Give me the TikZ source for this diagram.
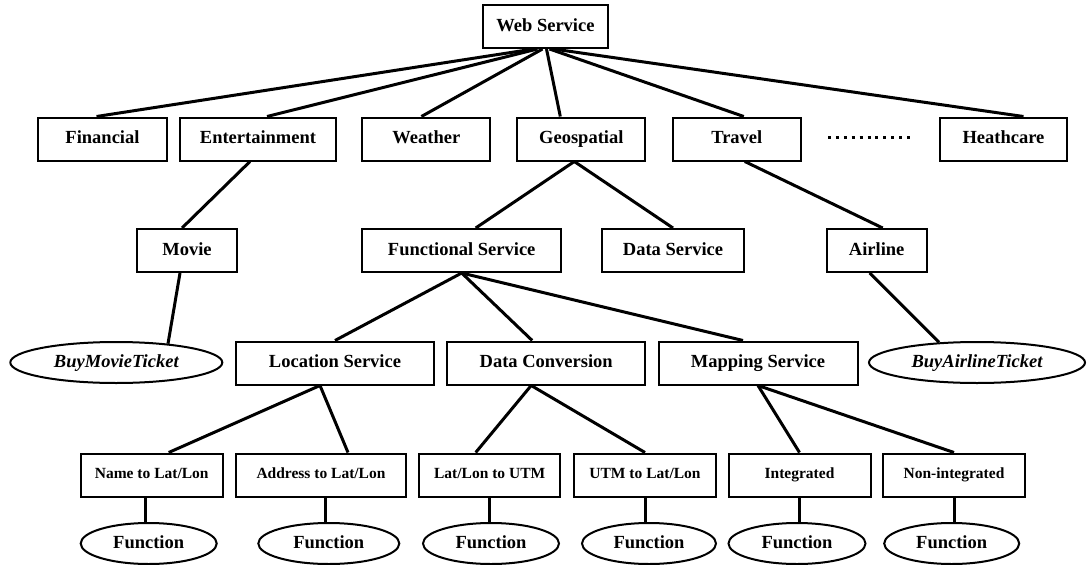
\documentclass[tikz,border=0pt]{standalone}
\usepackage{fontspec}
\setmainfont{Liberation Serif}
\usetikzlibrary{shapes.geometric}
\tikzset{
  bx/.style={draw, line width=2pt, inner sep=0pt, minimum height=43pt,
    text height=12.5pt, text depth=3.5pt,
    font=\fontsize{18.5}{20}\selectfont\bfseries},
  sbx/.style={bx, text height=10.5pt, text depth=3pt,
    font=\fontsize{15.5}{17}\selectfont\bfseries},
  ell/.style={draw, ellipse, line width=2pt, inner sep=0pt, minimum height=41pt,
    text height=12.5pt, text depth=3.5pt,
    font=\fontsize{18.5}{20}\selectfont\bfseries},
  iell/.style={ell, font=\fontsize{18.5}{20}\selectfont\bfseries\itshape},
  link/.style={line width=3pt},
}
\begin{document}
\begin{tikzpicture}[x=1pt,y=-1pt]
\useasboundingbox (0,0) rectangle (1088,565);
% level 0
\node[bx, minimum width=125pt] (ws) at (545.5,26.5) {Web Service};
% level 1
\node[bx, minimum width=129pt] (fin) at (102.5,139) {Financial};
\node[bx, minimum width=156pt] (ent) at (258,139) {Entertainment};
\node[bx, minimum width=128pt] (wea) at (426.4,139) {Weather};
\node[bx, minimum width=128pt] (geo) at (581.3,139) {Geospatial};
\node[bx, minimum width=128pt] (tra) at (736.8,139) {Travel};
\node[bx, minimum width=127pt] (hea) at (1003.5,139) {Heathcare};
\coordinate (dotsA) at (828,137.5);
\coordinate (dotsB) at (912,137.5);
% level 2
\node[bx, minimum width=100pt] (mov) at (187,250.5) {Movie};
\node[bx, minimum width=199pt] (fs) at (461.7,250.5) {Functional Service};
\node[bx, minimum width=142pt] (ds) at (673,250.5) {Data Service};
\node[bx, minimum width=100pt] (air) at (876.7,250.5) {Airline};
% level 3
\node[iell, minimum width=212pt] (bmt) at (116.3,362.5) {BuyMovieTicket};
\node[bx, minimum width=198pt] (ls) at (335,363) {Location Service};
\node[bx, minimum width=198pt] (dc) at (546.2,363) {Data Conversion};
\node[bx, minimum width=199pt] (ms) at (758,363) {Mapping Service};
\node[iell, minimum width=216pt] (bat) at (977,362.5) {BuyAirlineTicket};
% level 4
\node[sbx, minimum width=142pt] (n1) at (151.7,475) {Name to Lat/Lon};
\node[sbx, minimum width=170pt] (n2) at (321,475) {Address to Lat/Lon};
\node[sbx, minimum width=141pt] (n3) at (489.7,475) {Lat/Lon to UTM};
\node[sbx, minimum width=142pt] (n4) at (645,475) {UTM to Lat/Lon};
\node[sbx, minimum width=142pt] (n5) at (799.5,475) {Integrated};
\node[sbx, minimum width=142pt] (n6) at (954,475) {Non-integrated};
% functions
\node[ell, minimum width=136pt] (f1) at (148.7,543.5) {Function};
\node[ell, minimum width=141pt] (f2) at (328.8,543.5) {Function};
\node[ell, minimum width=136pt] (f3) at (491,543.5) {Function};
\node[ell, minimum width=134pt] (f4) at (649,543.5) {Function};
\node[ell, minimum width=137pt] (f5) at (797,543.5) {Function};
\node[ell, minimum width=135pt] (f6) at (951.7,543.5) {Function};
% connectors level 0 -> 1
\draw[link] ([xshift=-12pt]ws.south) -- ([xshift=-6pt]fin.north);
\draw[link] ([xshift=-8pt]ws.south) -- ([xshift=9pt]ent.north);
\draw[link] ([xshift=-3pt]ws.south) -- ([xshift=-5pt]wea.north);
\draw[link] ([xshift=1pt]ws.south) -- ([xshift=-21pt]geo.north);
\draw[link] ([xshift=4pt]ws.south) -- ([xshift=7pt]tra.north);
\draw[link] ([xshift=8pt]ws.south) -- ([xshift=20pt]hea.north);
\draw[line width=3pt, dash pattern=on 3pt off 4.9pt] (dotsA) -- (dotsB);
% level 1 -> 2
\draw[link] ([xshift=-8pt]ent.south) -- ([xshift=-5pt]mov.north);
\draw[link] ([xshift=-7pt]geo.south) -- ([xshift=14pt]fs.north);
\draw[link] ([xshift=-7pt]geo.south) -- (ds.north);
\draw[link] ([xshift=8pt]tra.south) -- ([xshift=6pt]air.north);
% level 2 -> 3
\draw[link] ([xshift=-7pt]mov.south) -- (bmt.20.4);
\draw[link] ([xshift=-7pt]air.south) -- (bat.152);
\draw[link] (fs.south) -- (ls.north);
\draw[link] (fs.south) -- ([xshift=-14pt]dc.north);
\draw[link] (fs.south) -- ([xshift=-15pt]ms.north);
% level 3 -> 4
\draw[link] ([xshift=-15pt]ls.south) -- ([xshift=17pt]n1.north);
\draw[link] ([xshift=-15pt]ls.south) -- ([xshift=27pt]n2.north);
\draw[link] ([xshift=-15pt]dc.south) -- ([xshift=-14pt]n3.north);
\draw[link] ([xshift=-15pt]dc.south) -- (n4.north);
\draw[link] (ms.south) -- (n5.north);
\draw[link] (ms.south) -- (n6.north);
% level 4 -> functions
\draw[link] ([xshift=-6pt]n1.south) -- ([xshift=-6pt]n1.south |- f1.north);
\draw[link] ([xshift=4pt]n2.south) -- ([xshift=4pt]n2.south |- f2.north);
\draw[link] (n3.south) -- (n3.south |- f3.north);
\draw[link] (n4.south) -- (n4.south |- f4.north);
\draw[link] (n5.south) -- (n5.south |- f5.north);
\draw[link] (n6.south) -- (n6.south |- f6.north);
\end{tikzpicture}
\end{document}
